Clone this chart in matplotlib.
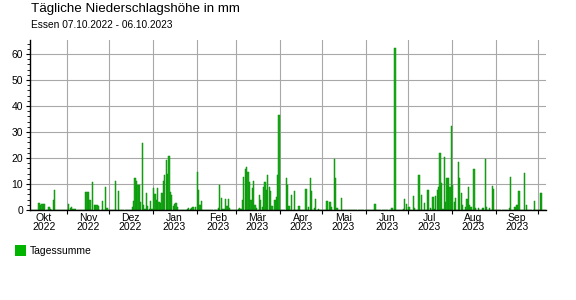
import datetime
import matplotlib
matplotlib.use('Agg')
from matplotlib import pyplot as plt
from matplotlib import dates
from matplotlib.patches import Rectangle
from matplotlib.ticker import MultipleLocator, FixedLocator, NullFormatter

plt.rcParams['font.family'] = ['Liberation Sans', 'DejaVu Sans']

# Daily precipitation (mm), Essen 07.10.2022 - 06.10.2023, one list per month
okt_2022 = [0, 0, 0, 0, 0, 2.7, 2.0, 2.3, 2.4, 2.2, 0, 0, 1.2, 0.5, 0,
            3.8, 7.7, 0, 0, 0, 0, 0, 0, 0, 0]  # from 7th
nov_2022 = [0, 2.3, 0.6, 1.3, 0.4, 0.4, 0.4, 0, 0, 0, 0, 0, 0, 6.9, 6.9,
            6.8, 3.8, 0, 10.6, 1.9, 2.0, 2.0, 1.7, 0, 0, 3.5, 0, 8.7, 0.6, 0]
dez_2022 = [0, 0, 0, 0, 11.2, 0, 7.3, 0, 0, 0, 0, 0, 0, 0, 0, 0,
            1.0, 3.5, 12.3, 11.3, 9.7, 9.5, 3.0, 25.9, 2.0, 0.5, 6.7, 1.5, 0.5, 3.5, 0.5]
jan_2023 = [8.3, 6.0, 4.0, 8.6, 3.2, 2.6, 6.4, 11.0, 13.5, 19.2, 14.0, 20.8, 7.1, 5.8, 1.5,
            2.5, 2.6, 1.3, 0, 0, 0, 0, 0, 0, 0.5, 0.6, 0.3, 0.8, 1.0, 0, 1.0]
feb_2023 = [14.7, 7.7, 2.0, 3.5, 0, 0, 0, 0, 0, 0, 0, 0, 0, 0, 0,
            0.6, 9.8, 4.5, 0.3, 0.5, 4.2, 1.5, 4.2, 0.8, 0, 0, 0, 0]
mar_2023 = [0, 0.5, 0.8, 0.5, 4.0, 12.6, 15.8, 16.5, 14.8, 10.6, 3.9, 8.5, 11.2, 2.0, 0.6,
            0, 5.8, 3.8, 1.0, 8.8, 10.6, 7.7, 13.6, 9.0, 7.5, 1.5, 0, 3.8, 5.1, 13.5, 36.5]
apr_2023 = [0, 0, 0, 0, 12.3, 9.5, 1.5, 0, 5.6, 0, 7.4, 0, 0, 1.5, 0,
            0, 0, 0, 8.0, 0, 1.0, 12.3, 7.4, 0, 0.8, 4.2, 0, 0.5, 0, 0]
mai_2023 = [0, 0, 0, 3.3, 0, 3.0, 1.0, 0, 19.6, 12.2, 0.7, 0, 0, 4.5, 0,
            0, 0, 0, 0, 0, 0, 0, 0, 0, 0, 0, 0, 0, 0, 0, 0]
jun_2023 = [0, 0, 0, 0, 0, 0, 2.2, 0, 0, 0, 0, 0, 0, 0, 0,
            0, 0, 0, 0.9, 0, 62.2, 0, 0, 0, 0, 0, 0.4, 4.2, 2.5, 0]
jul_2023 = [1.0, 0, 0, 5.4, 0.6, 0, 0, 13.5, 0, 5.8, 0, 2.8, 0, 7.7, 7.7,
            0.6, 0, 4.9, 0.5, 5.4, 7.7, 8.7, 22.0, 10.3, 0.5, 20.5, 3.2, 12.3, 12.5, 9.0, 32.4]
aug_2023 = [9.6, 3.2, 4.5, 0, 18.6, 12.2, 6.6, 1.9, 0, 1.3, 4.2, 8.7, 1.9, 1.0, 0,
            15.6, 0.6, 0, 0.6, 0, 0, 0.6, 0.6, 19.5, 1.3, 0, 0.6, 0, 9.2, 8.0, 0]
sep_2023 = [0, 0, 0, 0, 0, 0, 0, 0, 0, 0.6, 12.8, 0, 0, 1.3, 1.9,
            1.9, 7.5, 0, 0, 0, 14.4, 1.9, 0, 0, 0, 0, 0, 3.5, 0, 0]
okt_2023 = [0, 6.5, 6.5, 0, 0, 0]  # up to 6th

month_names = ['Okt', 'Nov', 'Dez', 'Jan', 'Feb', 'Mär', 'Apr', 'Mai', 'Jun', 'Jul', 'Aug', 'Sep']
month_years = ['2022', '2022', '2022', '2023', '2023', '2023', '2023', '2023', '2023', '2023', '2023', '2023']

values = (okt_2022 + nov_2022 + dez_2022 + jan_2023 + feb_2023 + mar_2023 + apr_2023
          + mai_2023 + jun_2023 + jul_2023 + aug_2023 + sep_2023 + okt_2023)
start = datetime.date(2022, 10, 7)
days = [start + datetime.timedelta(days=i) for i in range(len(values))]
x = dates.date2num(days)

fig = plt.figure(figsize=(5.76, 3.0), dpi=100)
W, H = 576.0, 300.0
ax = fig.add_axes([30 / W, 90 / H, 516 / W, 170 / H])

ax.bar(x, values, width=0.9, align='edge', color='#18ad18', edgecolor='#0b8f0b',
       linewidth=0.35, zorder=3)

# month boundaries (grid + ticks), labels in the middle of each month
bounds = [datetime.date(2022 + (m + 10) // 12, (m + 10) % 12 + 1, 1) for m in range(12)]
mids = [datetime.date(2022 + (m + 9) // 12, (m + 9) % 12 + 1, 16) for m in range(12)]
ax.xaxis.set_major_locator(FixedLocator(dates.date2num(bounds)))
ax.xaxis.set_major_formatter(NullFormatter())
ax.xaxis.set_minor_locator(FixedLocator(dates.date2num(mids)))
ax.set_xticklabels([m + '\n' + y for m, y in zip(month_names, month_years)], minor=True)
ax.tick_params(axis='x', which='major', length=3, width=0.8, direction='out')
ax.tick_params(axis='x', which='minor', length=0, pad=2, labelsize=7.5)
for lbl in ax.get_xticklabels(minor=True):
    lbl.set_linespacing(0.85)

ax.set_xlim(dates.date2num(datetime.date(2022, 10, 6)),
            dates.date2num(datetime.date(2022, 10, 6)) + 365.5)
ax.set_ylim(0, 65.4)
ax.yaxis.set_major_locator(MultipleLocator(10))
ax.yaxis.set_minor_locator(MultipleLocator(2))
ax.tick_params(axis='y', which='major', length=3, width=0.8, labelsize=7.5, pad=2)
ax.tick_params(axis='y', which='minor', length=2, width=0.6)

ax.grid(True, which='major', color='#a8a8a8', linewidth=0.8, zorder=0)
ax.set_axisbelow(True)
for s in ['top', 'right']:
    ax.spines[s].set_visible(False)
for s in ['left', 'bottom']:
    ax.spines[s].set_linewidth(1.0)
    ax.spines[s].set_zorder(4)

fig.text(31 / W, 1 - 3 / H, 'Tägliche Niederschlagshöhe in mm', fontsize=9.6, va='top', ha='left')
fig.text(31 / W, 1 - 20 / H, 'Essen 07.10.2022 - 06.10.2023', fontsize=7.3, va='top', ha='left')

fig.patches.append(Rectangle((15 / W, 1 - 256 / H), 11 / W, 11 / H, transform=fig.transFigure,
                             facecolor='#00b400', edgecolor='none'))
fig.text(30 / W, 1 - 250.5 / H, 'Tagessumme', fontsize=7.5, va='center', ha='left')

fig.savefig('out.png', dpi=100)
